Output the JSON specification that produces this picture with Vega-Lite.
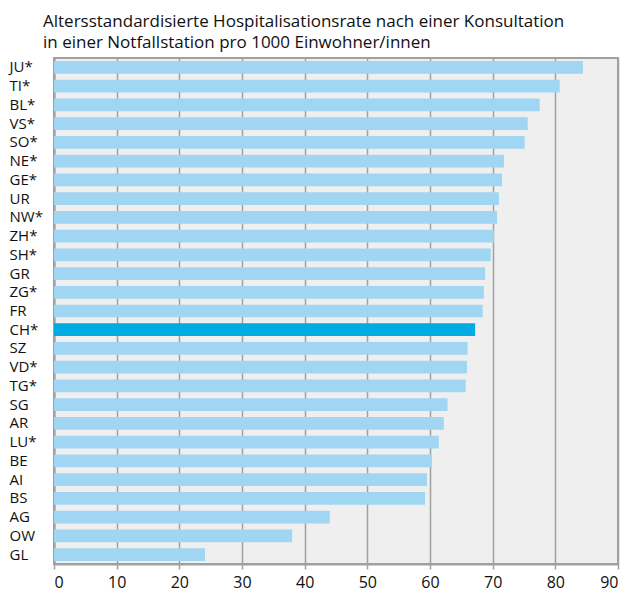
{
  "$schema": "https://vega.github.io/schema/vega-lite/v6.json",
  "autosize": "none",
  "width": 564,
  "height": 506,
  "padding": {"left": 54, "top": 58, "right": 13, "bottom": 30},
  "background": "white",
  "title": {
    "text": ["Altersstandardisierte Hospitalisationsrate nach einer Konsultation", "in einer Notfallstation pro 1000 Einwohner/innen"],
    "anchor": "start",
    "frame": "group",
    "dx": -11,
    "offset": 6,
    "font": "Open Sans",
    "fontSize": 17,
    "fontWeight": "normal",
    "lineHeight": 21,
    "color": "#111111"
  },
  "config": {
    "view": {"fill": "#efefef", "stroke": "#a0a0a0", "strokeWidth": 2},
    "axis": {"labelFont": "Open Sans", "labelColor": "#111111"}
  },
  "data": {
    "values": [
      {"k": "JU*", "v": 84.4},
      {"k": "TI*", "v": 80.7},
      {"k": "BL*", "v": 77.5},
      {"k": "VS*", "v": 75.6},
      {"k": "SO*", "v": 75.1},
      {"k": "NE*", "v": 71.8},
      {"k": "GE*", "v": 71.5},
      {"k": "UR", "v": 71.0},
      {"k": "NW*", "v": 70.7},
      {"k": "ZH*", "v": 70.2},
      {"k": "SH*", "v": 69.7},
      {"k": "GR", "v": 68.8},
      {"k": "ZG*", "v": 68.6},
      {"k": "FR", "v": 68.4},
      {"k": "CH*", "v": 67.2},
      {"k": "SZ", "v": 66.0},
      {"k": "VD*", "v": 65.9},
      {"k": "TG*", "v": 65.7},
      {"k": "SG", "v": 62.8},
      {"k": "AR", "v": 62.2},
      {"k": "LU*", "v": 61.4},
      {"k": "BE", "v": 60.3},
      {"k": "AI", "v": 59.5},
      {"k": "BS", "v": 59.2},
      {"k": "AG", "v": 44.0},
      {"k": "OW", "v": 38.0},
      {"k": "GL", "v": 24.1}
    ]
  },
  "mark": {"type": "bar"},
  "encoding": {
    "y": {
      "field": "k",
      "type": "nominal",
      "sort": null,
      "scale": {"paddingInner": 0.32, "paddingOuter": 0.16},
      "axis": {
        "title": null,
        "ticks": false,
        "domain": true,
        "domainColor": "#a0a0a0",
        "domainWidth": 2,
        "labelAlign": "left",
        "labelPadding": 45,
        "labelFontSize": 15
      }
    },
    "x": {
      "field": "v",
      "type": "quantitative",
      "scale": {"domain": [0, 90], "nice": false},
      "axis": {
        "title": null,
        "values": [0, 10, 20, 30, 40, 50, 60, 70, 80, 90],
        "grid": true,
        "gridColor": "#a0a0a0",
        "gridWidth": 1.5,
        "domainColor": "#a0a0a0",
        "domainWidth": 2,
        "tickColor": "#a0a0a0",
        "tickWidth": 1.5,
        "tickSize": 5,
        "labelFontSize": 16,
        "labelPadding": 5
      }
    },
    "color": {
      "condition": {"test": "datum.k === 'CH*'", "value": "#00aae2"},
      "value": "#a0d6f2"
    }
  }
}
